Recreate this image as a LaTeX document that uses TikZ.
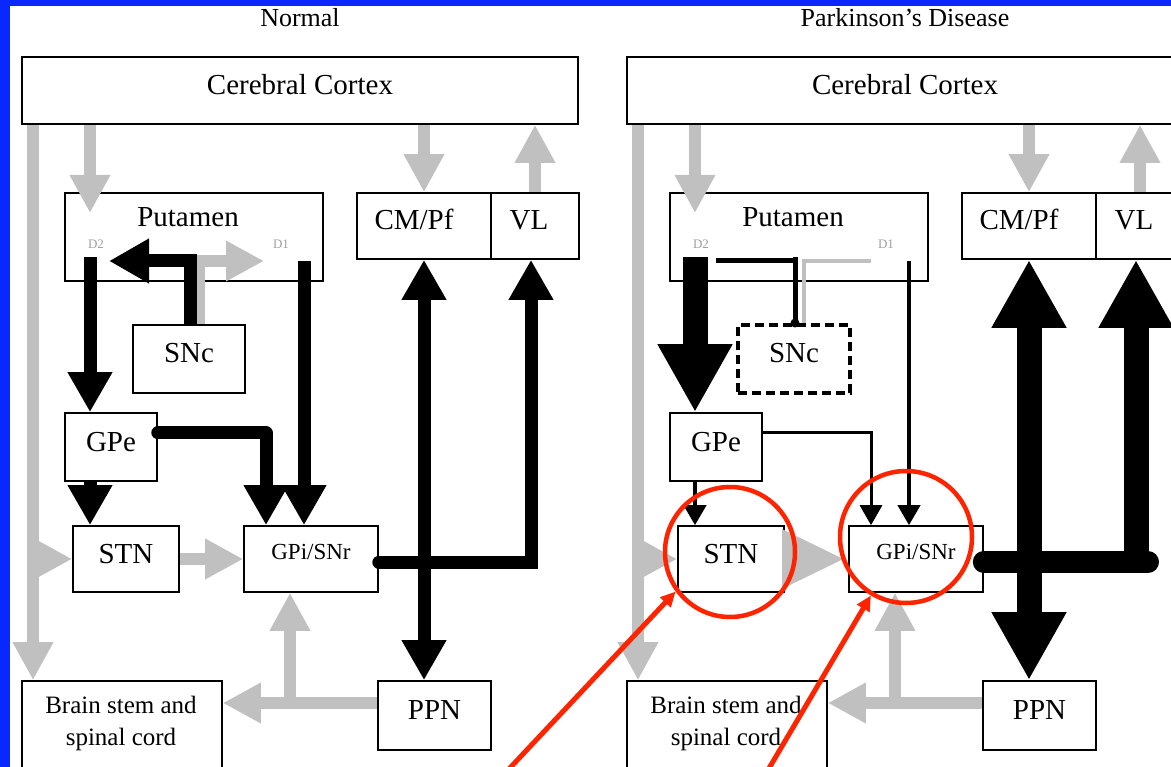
\documentclass[tikz,border=0pt]{standalone}
\usepackage{fontspec}
\setmainfont{Liberation Serif}
\usetikzlibrary{arrows.meta}

\definecolor{cornice}{RGB}{8,40,255}
\definecolor{grigio}{RGB}{192,192,192}
\definecolor{grigiod}{RGB}{160,160,160}
\definecolor{rosso}{RGB}{255,36,0}

\tikzset{
  graytip/.tip={Triangle[length=38pt,width=38pt]},
  blktip/.tip={Triangle[length=40pt,width=42pt]},
  bigtip/.tip={Triangle[length=68pt,width=70pt]},
  thintip/.tip={Triangle[length=20pt,width=22pt]},
  box/.style={draw, line width=1.6pt, inner sep=0pt, font=\fontsize{29}{34}\selectfont, text height=20pt, text depth=12pt},
  boxtext/.style={anchor=base, inner sep=0pt, font=\fontsize{29}{34}\selectfont},
  paneltitle/.style={anchor=base, inner sep=0pt, font=\fontsize{26}{30}\selectfont},
  dlabel/.style={inner sep=0pt, text=grigiod, font=\fontsize{13}{13}\selectfont},
  sncplain/.style={},
  sncdash/.style={line width=4pt, dash pattern=on 9pt off 5pt},
  gry/.style={draw=grigio, line width=12pt, -graytip},
  blk/.style={line width=13pt, -blktip},
  bigblk/.style={line width=25pt, -bigtip},
  thn/.style={line width=4pt, -thintip},
  ring/.style={circle, draw=rosso, line width=4.5pt, minimum size=130pt, inner sep=0pt},
  redarr/.style={draw=rosso, line width=5pt, -{Triangle[length=15pt,width=14pt]}},
}

\begin{document}
\begin{tikzpicture}[x=1pt,y=-1pt]
  \useasboundingbox (0,0) rectangle (1171,767);
  \clip (0,0) rectangle (1171,767);

  % Sfondo e cornice
  \fill[cornice] (0,0) rectangle (1171,767);
  \fill[white] (10,6) rectangle (1171,767);

  % Righe comuni
  \coordinate (dtop) at (0,257);
  \coordinate (prow) at (0,261);
  \coordinate (pin)  at (0,213);
  \coordinate (erow) at (0,433);
  \coordinate (orow) at (0,562);
  \coordinate (brow) at (0,703);

  % Riquadri dei due schemi
  \foreach \p/\dx/\ttl/\sncst in {L/0/Normal/sncplain, R/605/{Parkinson's Disease}/sncdash} {
    \node[paneltitle] (title\p) at ({\dx+300},27) {\ttl};
    \node[box, minimum width=556pt, minimum height=67pt] (ctx\p) at ({\dx+300},90.5) {Cerebral Cortex};
    \node[box, minimum width=258pt, minimum height=88pt] (puta\p) at ({\dx+194},237) {};
    \node[boxtext] (putatxt\p) at ({\dx+188},227) {Putamen};
    \node[dlabel] (dtwo\p) at ({\dx+96},244) {D2};
    \node[dlabel] (done\p) at ({\dx+281},244) {D1};
    \node[box, minimum width=134pt, minimum height=66pt] (cmpf\p) at ({\dx+424},226) {};
    \node[box, minimum width=88pt, minimum height=66pt] (vl\p) at ({\dx+535},226) {};
    \node[boxtext] (cmpftxt\p) at ({\dx+414},230) {CM/Pf};
    \node[boxtext] (vltxt\p) at ({\dx+529},230) {VL};
    \node[box, \sncst, minimum width=112pt, minimum height=68pt] (snc\p) at ({\dx+189},359) {SNc};
    \node[box, minimum width=92pt, minimum height=68pt] (gpe\p) at ({\dx+111},447) {GPe};
    \node[box, minimum width=106pt, minimum height=66pt] (stn\p) at ({\dx+126},559) {STN};
    \node[box, minimum width=134pt, minimum height=66pt, font=\fontsize{23}{26}\selectfont, text depth=20pt] (gpi\p) at ({\dx+311},559) {GPi/SNr};
    \node[box, minimum width=113pt, minimum height=69pt] (ppn\p) at ({\dx+434.5},715.5) {PPN};
    \node[box, minimum width=200pt, minimum height=100pt] (brain\p) at ({\dx+122},731) {};
    \node[boxtext, anchor=north, align=center, font=\fontsize{25}{32}\selectfont] (braintxt\p) at ({\dx+121},696) {Brain stem and\\spinal cord};
    % corsie verticali
    \coordinate (side\p) at ({\dx+33},0);
    \coordinate (str\p)  at ({\dx+90},0);
    \coordinate (snk\p)  at ({\dx+190},0);
    \coordinate (sng\p)  at ({\dx+199},0);
    \coordinate (gpx\p)  at ({\dx+266},0);
    \coordinate (fb\p)   at ({\dx+290},0);
    \coordinate (d1\p)   at ({\dx+304},0);
    \coordinate (thl\p)  at ({\dx+424},0);
    \coordinate (vll\p)  at ({\dx+531},0);
    \coordinate (vlg\p)  at ({\dx+535},0);
  }

  % Estremi liberi
  \coordinate (daL) at (109,261);
  \coordinate (dbL) at (264,261);
  \coordinate (dsR) at (716,261);
  \coordinate (dbR) at (871,261);
  \coordinate (vlendR) at (1148,562);

  % Frecce grigie (normale)
  \draw[gry] (sideL |- ctxL.south) -- (sideL |- brainL.north);
  \draw[gry] (sideL |- stnL.west) -- (stnL.west);
  \draw[gry] (strL |- ctxL.south) -- (strL |- pin);
  \draw[gry] (thlL |- ctxL.south) -- (thlL |- cmpfL.north);
  \draw[gry] (vlgL |- vlL.north) -- (vlgL |- ctxL.south);
  \draw[gry] (sngL |- sncL.north) -- (sngL |- prow) -- (dbL);
  \draw[gry] (stnL.east) -- (gpiL.west);
  \draw[gry] (ppnL.west |- brow) -- (brainL.east |- brow);
  \draw[gry] (fbL |- brow) -- (fbL |- gpiL.south);

  % Frecce nere (normale)
  \draw[blk] (strL |- dtop) -- (strL |- gpeL.north);
  \draw[blk] (snkL |- sncL.north) -- (snkL |- prow) -- (daL);
  \draw[blk] (d1L |- prow) -- (d1L |- gpiL.north);
  \draw[blk, line cap=round, line join=round] (gpeL.east |- erow) -- (gpxL |- erow) -- (gpxL |- gpiL.north);
  \draw[blk] (strL |- gpeL.south) -- (strL |- stnL.north);
  \draw[blk, line cap=round] (gpiL.east |- orow) -- (vllL |- orow) -- (vllL |- vlL.south);
  \draw[blk, blktip-blktip] (thlL |- cmpfL.south) -- (thlL |- ppnL.north);

  % Frecce grigie (Parkinson)
  \draw[gry] (sideR |- ctxR.south) -- (sideR |- brainR.north);
  \draw[gry] (sideR |- stnR.west) -- (stnR.west);
  \draw[gry] (strR |- ctxR.south) -- (strR |- pin);
  \draw[gry] (thlR |- ctxR.south) -- (thlR |- cmpfR.north);
  \draw[gry] (vlgR |- vlR.north) -- (vlgR |- ctxR.south);
  \draw[gry, -{Triangle[length=62pt,width=56pt]}] (stnR.east) -- ([xshift=-4pt]gpiR.west);
  \draw[gry] (ppnR.west |- brow) -- (brainR.east |- brow);
  \draw[gry] (fbR |- brow) -- (fbR |- gpiR.south);
  \draw[grigio, line width=3.5pt] (sngR |- sncR.north) -- (sngR |- prow) -- (dbR);

  % Frecce nere (Parkinson)
  \draw[bigblk] (strR |- dtop) -- (strR |- gpeR.north);
  \draw[line width=5pt] (dsR) -- (snkR |- prow);
  \draw[line width=5pt] (snkR |- dtop) -- (snkR |- sncR.north);
  \fill (snkR |- sncR.north) circle (4.5pt);
  \draw[thn] (d1R |- prow) -- (d1R |- gpiR.north);
  \draw[thn, line width=3pt] (gpeR.east |- erow) -- (gpxR |- erow) -- (gpxR |- gpiR.north);
  \draw[thn] (strR |- gpeR.south) -- (strR |- stnR.north);
  \draw[line width=22pt, line cap=round] (gpiR.east |- orow) -- (vlendR);
  \draw[bigblk] (vllR |- orow) -- (vllR |- vlR.south);
  \draw[bigblk, bigtip-bigtip] (thlR |- cmpfR.south) -- (thlR |- ppnR.north);

  % Evidenziazione in rosso
  \node[ring] (ringstn) at (730,552) {};
  \node[ring, minimum size=132pt] (ringgpi) at (906,537) {};
  \coordinate (ra) at (508,770);
  \coordinate (rb) at (768,770);
  \draw[redarr] (ra) -- (ringstn.216);
  \draw[redarr] (rb) -- (ringgpi.239);
\end{tikzpicture}
\end{document}
